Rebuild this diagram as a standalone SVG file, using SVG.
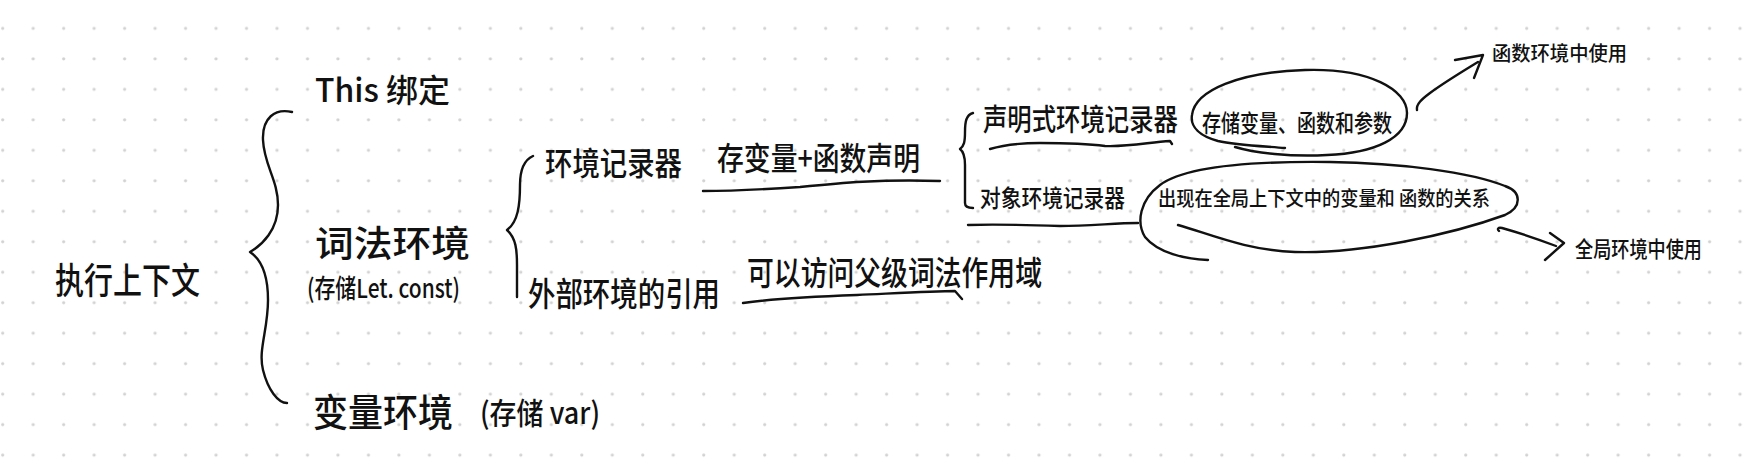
<svg xmlns="http://www.w3.org/2000/svg" width="1748" height="476" viewBox="0 0 1748 476">
  <defs>
    <pattern id="dots" x="0" y="0" width="30.48" height="30.48" patternUnits="userSpaceOnUse">
      <circle cx="2.7" cy="28.3" r="1.6" fill="#d2d2d2"/>
    </pattern>
    <style>
      .t { font-family: "Noto Sans CJK SC", "Noto Sans", sans-serif; fill: #111; font-weight: 500; }
      .ln { fill: none; stroke: #111; stroke-width: 2.4; stroke-linecap: round; stroke-linejoin: round; }
    </style>
  </defs>
  <rect width="1748" height="476" fill="#ffffff"/>
  <rect width="1748" height="476" fill="url(#dots)"/>

  <g id="connectors">
    <path class="ln" d="M292,112 C275,108 262,118 263,140 C264,165 278,180 278,205 C278,230 262,245 250,252 C262,260 268,275 268,300 C268,330 258,350 263,370 C268,390 278,403 287,403"/>
    <path class="ln" d="M533,156 C524,160 520,170 520,185 C520,205 518,222 507,230 C516,238 517,250 517,265 L517,297"/>
    <path class="ln" d="M973,113 C966,115 965,122 965,132 C965,142 964,146 960,149 C964,152 965,157 965,165 L965,203 C965,207 968,208 973,208"/>
    <path class="ln" d="M703,191 C740,191 770,189 800,187 C840,183 880,179 940,181"/>
    <path class="ln" d="M743,303 C770,299 800,297 857,295 C900,293 935,291 955,291 L962,299"/>
    <path class="ln" d="M990,149 C1000,146 1020,143 1040,143 C1065,143 1090,144 1105,146 C1130,147 1150,142 1170,141 L1172,144"/>
    <path class="ln" d="M968,225 C1000,224 1030,225 1060,226 C1090,226 1115,223 1138,223"/>
    <path class="ln" d="M1417,110 C1416,104 1422,99 1430,93 C1445,82 1460,73 1478,62"/>
    <path class="ln" d="M1455,60 L1483,55 L1474,78"/>
    <path class="ln" d="M1499,231 C1497,229 1498,227 1502,228 C1520,233 1540,240 1556,246"/>
    <path class="ln" d="M1550,233 L1564,243 L1545,260"/>
  </g>

  <g id="n-root"><text class="t" x="55" y="294" font-size="36" textLength="145" lengthAdjust="spacingAndGlyphs">执行上下文</text></g>
  <g id="n-this"><text class="t" x="315" y="102" font-size="32" textLength="135" lengthAdjust="spacingAndGlyphs">This 绑定</text></g>
  <g id="n-lexical">
    <text class="t" x="315" y="257" font-size="36" textLength="155" lengthAdjust="spacingAndGlyphs">词法环境</text>
    <text class="t" x="307" y="298" font-size="26" textLength="153" lengthAdjust="spacingAndGlyphs">(存储Let. const)</text>
  </g>
  <g id="n-variable"><text class="t" x="313" y="426" font-size="38" textLength="140" lengthAdjust="spacingAndGlyphs">变量环境</text><text class="t" x="480" y="424" font-size="30" textLength="120" lengthAdjust="spacingAndGlyphs">(存储 var)</text></g>
  <g id="n-envrec">
    <text class="t" x="545" y="175" font-size="32" textLength="137" lengthAdjust="spacingAndGlyphs">环境记录器</text>
    <text class="t" x="717" y="170" font-size="32" textLength="203" lengthAdjust="spacingAndGlyphs">存变量+函数声明</text>
  </g>
  <g id="n-outer">
    <text class="t" x="528" y="306" font-size="33" textLength="192" lengthAdjust="spacingAndGlyphs">外部环境的引用</text>
    <text class="t" x="747" y="285" font-size="33" textLength="295" lengthAdjust="spacingAndGlyphs">可以访问父级词法作用域</text>
  </g>
  <g id="n-declarative"><text class="t" x="983" y="130" font-size="30" textLength="195" lengthAdjust="spacingAndGlyphs">声明式环境记录器</text></g>
  <g id="n-object"><text class="t" x="980" y="207" font-size="24" textLength="145" lengthAdjust="spacingAndGlyphs">对象环境记录器</text></g>
  <g id="n-decl-desc">
    <path class="ln" d="M1285,148 C1260,146 1235,145 1218,141 C1200,136 1190,127 1192,115 C1195,90 1240,72 1305,70 C1370,68 1407,90 1407,113 C1407,138 1375,153 1327,155 C1290,157 1255,153 1235,147"/>
    <text class="t" x="1202" y="132" font-size="24" textLength="190" lengthAdjust="spacingAndGlyphs">存储变量、函数和参数</text>
  </g>
  <g id="n-obj-desc">
    <path class="ln" d="M1178,225 C1210,234 1245,250 1295,252 C1360,254 1450,235 1505,215 C1522,207 1522,192 1505,186 C1470,172 1400,163 1330,162 C1250,161 1185,166 1160,185 C1140,200 1136,222 1145,237 C1158,253 1185,259 1208,260"/>
    <text class="t" x="1158" y="206" font-size="20" textLength="332" lengthAdjust="spacingAndGlyphs">出现在全局上下文中的变量和 函数的关系</text>
  </g>
  <g id="n-func-use"><text class="t" x="1492" y="61" font-size="20" textLength="135" lengthAdjust="spacingAndGlyphs">函数环境中使用</text></g>
  <g id="n-global-use"><text class="t" x="1575" y="257" font-size="22" textLength="127" lengthAdjust="spacingAndGlyphs">全局环境中使用</text></g>
</svg>
